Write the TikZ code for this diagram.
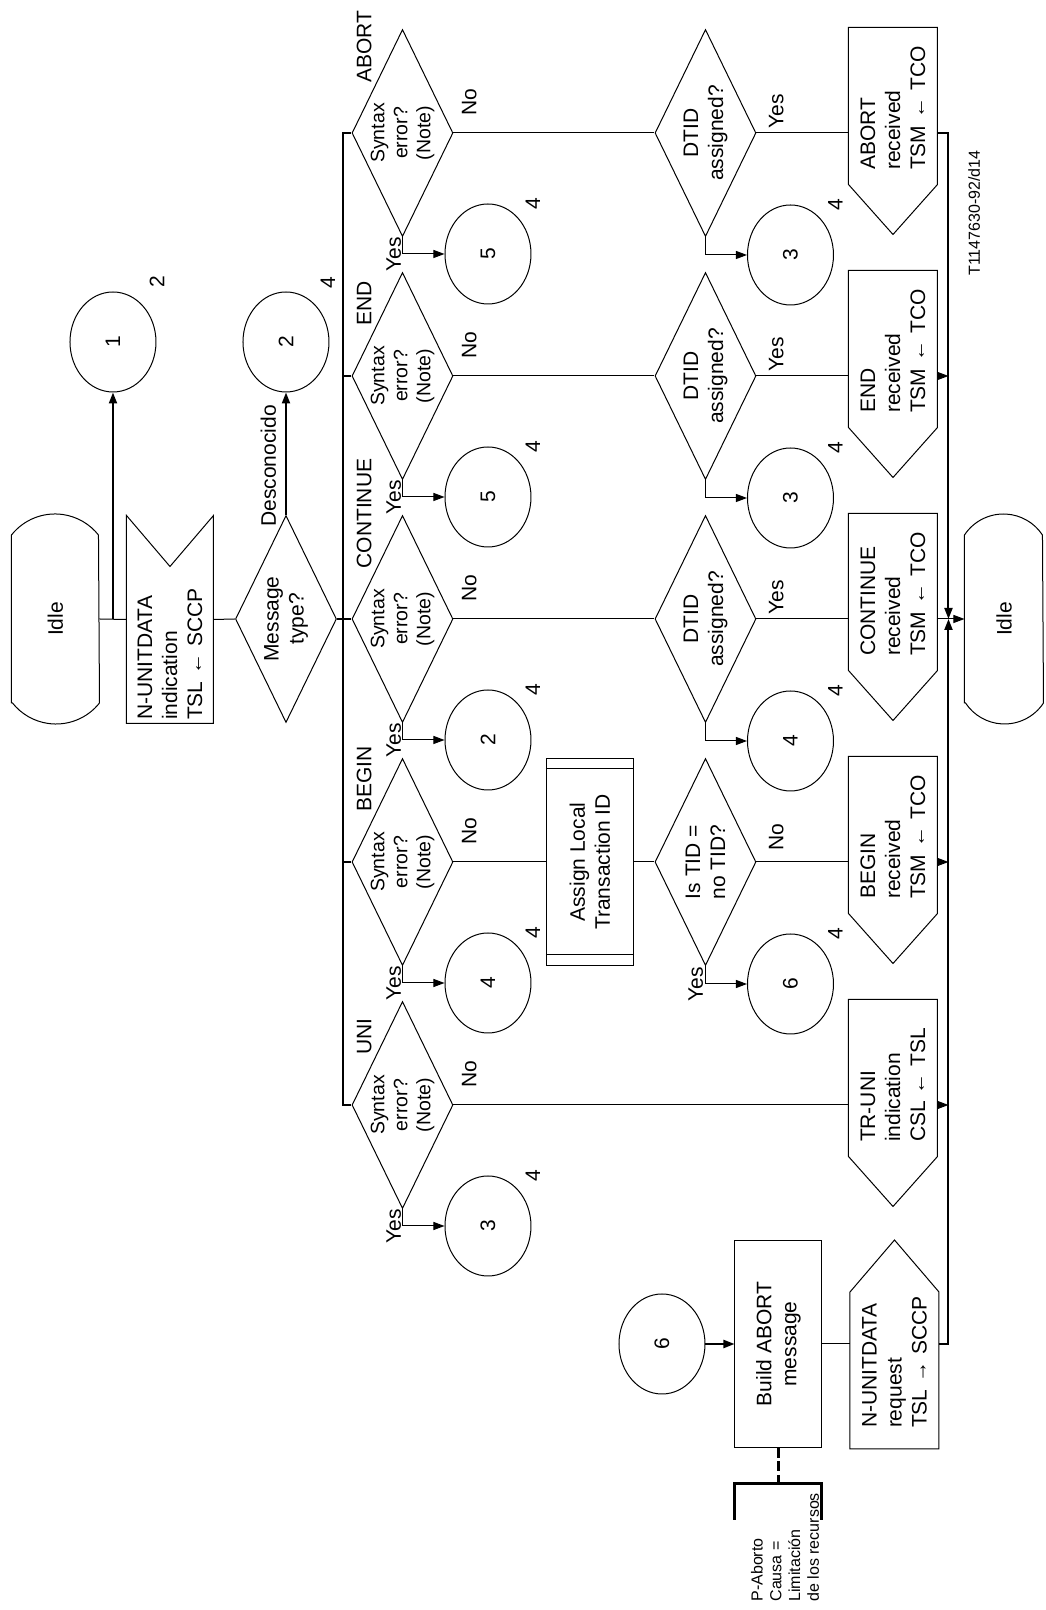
\documentclass[tikz,border=0pt]{standalone}
\usepackage{fontspec}
\setmainfont{Liberation Sans}
\usetikzlibrary{arrows.meta,positioning,calc,shapes.geometric}

\newcommand{\mainsize}{\fontsize{21}{25}\selectfont}
\newcommand{\decsize}{\fontsize{19.5}{23}\selectfont}
\newcommand{\notesize}{\fontsize{16}{18.7}\selectfont}

\begin{document}
\begin{tikzpicture}[
  x=1pt, y=1pt, rotate=90, transform shape,
  line width=1pt,
  every node/.style={font=\mainsize, inner sep=0pt},
  statebox/.style={rectangle, minimum width=167pt, minimum height=87pt},
  inbox/.style={rectangle, minimum width=207pt, minimum height=86pt,
    inner xsep=3pt, text width=201pt, align=left},
  outbox/.style={rectangle, minimum width=156pt, minimum height=88pt,
    inner xsep=14pt, text width=128pt, align=left},
  taskbox/.style={rectangle, draw, minimum width=207pt, minimum height=87pt, align=center},
  decision/.style={diamond, draw, aspect=2, minimum width=207pt,
    minimum height=101pt, align=center},
  syntaxbox/.style={decision, font=\decsize},
  connector/.style={ellipse, draw, minimum width=100pt, minimum height=86pt},
  lbl/.style={font=\mainsize},
  flow/.style={line width=1pt},
  bus/.style={line width=2pt},
  arr/.style={-{Triangle[length=11pt,width=8pt]}},
  commentline/.style={line width=3pt, dash pattern=on 10pt off 3.5pt},
]
\useasboundingbox (0,0) rectangle (1610,1045);

% --- Start: Idle, N-UNITDATA indication, message type ---
\node[statebox] (idle) at (991,989.5) {Idle};
\node[inbox] (nind) at (990.5,875) {N-UNITDATA\\indication\\TSL ← SCCP};
\node[decision] (msgtype) at (991,759) {Message\\type?};
\node[connector] (cone) at (1268,932) {1};
\node[connector] (ctwo) at (1268,759) {2};
\node (conenote) at (1328,888) {2};
\node (ctwonote) at (1327,717) {4};

\draw (idle.north west) -- (idle.north east) arc[start angle=51.6, end angle=-51.6, radius=55.5pt]
  -- (idle.south west) arc[start angle=231.6, end angle=128.4, radius=55.5pt] -- cycle;
\draw (nind.north west) -- (nind.north east) -- ($(nind.east)+(-51,0)$)
  -- (nind.south east) -- (nind.south west) -- cycle;

% --- Syntax check, one column per message type ---
\node[syntaxbox] (synU) at (505,642.5) {Syntax\\error?\\(Note)};
\node[syntaxbox] (synB) at (748,642.5) {Syntax\\error?\\(Note)};
\node[syntaxbox] (synC) at (991,642.5) {Syntax\\error?\\(Note)};
\node[syntaxbox] (synE) at (1234,642.5) {Syntax\\error?\\(Note)};
\node[syntaxbox] (synA) at (1477,642.5) {Syntax\\error?\\(Note)};

\node[lbl, anchor=base west] (tagU) at ($(synU.north)+(50,-20)$) {UNI};
\node[lbl, anchor=base west] (tagB) at ($(synB.north)+(50,-20)$) {BEGIN};
\node[lbl, anchor=base west] (tagC) at ($(synC.north)+(50,-20)$) {CONTINUE};
\node[lbl, anchor=base west] (tagE) at ($(synE.north)+(50,-20)$) {END};
\node[lbl, anchor=base west] (tagA) at ($(synA.north)+(50,-20)$) {ABORT};

\node[connector] (cU) at (384,557) {3};
\node[connector] (cB) at (627,557) {4};
\node[connector] (cC) at (870,557) {2};
\node[connector] (cE) at (1113,557) {5};
\node[connector] (cA) at (1356,557) {5};
\node (cUnote) at ($(cU)+(50,-45)$) {4};
\node (cBnote) at ($(cB)+(50,-45)$) {4};
\node (cCnote) at ($(cC)+(50,-45)$) {4};
\node (cEnote) at ($(cE)+(50,-45)$) {4};
\node (cAnote) at ($(cA)+(50,-45)$) {4};

\node[lbl, anchor=base east] (noU) at ($(synU.south)+(45,-23)$) {No};
\node[lbl, anchor=base east] (noB) at ($(synB.south)+(45,-23)$) {No};
\node[lbl, anchor=base east] (noC) at ($(synC.south)+(45,-23)$) {No};
\node[lbl, anchor=base east] (noE) at ($(synE.south)+(45,-23)$) {No};
\node[lbl, anchor=base east] (noA) at ($(synA.south)+(45,-23)$) {No};

% --- Transaction ID checks ---
\node[taskbox] (asg) at (748,455) {Assign Local\\Transaction ID};
\draw ($(asg.north west)+(11,0)$) -- ($(asg.south west)+(11,0)$);
\draw ($(asg.north east)+(-11,0)$) -- ($(asg.south east)+(-11,0)$);

\node[decision] (tidB) at (748,339.5) {Is TID =\\no TID?};
\node[decision] (dtC) at (991,339.5) {DTID\\assigned?};
\node[decision] (dtE) at (1234,339.5) {DTID\\assigned?};
\node[decision] (dtA) at (1477,339.5) {DTID\\assigned?};

\node[connector] (csB) at (626,254.5) {6};
\node[connector] (cdC) at (869,254.5) {4};
\node[connector] (cdE) at (1112,254.5) {3};
\node[connector] (cdA) at (1355,254.5) {3};
\node (csBnote) at ($(csB)+(50,-45)$) {4};
\node (cdCnote) at ($(cdC)+(50,-45)$) {4};
\node (cdEnote) at ($(cdE)+(50,-45)$) {4};
\node (cdAnote) at ($(cdA)+(50,-45)$) {4};

\node[lbl, anchor=base east] (noB2) at ($(tidB.south)+(39,-27)$) {No};
\node[lbl, anchor=base east] (yesC2) at ($(dtC.south)+(39,-27)$) {Yes};
\node[lbl, anchor=base east] (yesE2) at ($(dtE.south)+(39,-27)$) {Yes};
\node[lbl, anchor=base east] (yesA2) at ($(dtA.south)+(39,-27)$) {Yes};

% --- Outputs ---
\node[outbox] (outU) at (532,152) {TR-UNI\\indication\\CSL ← TSL};
\node[outbox] (outB) at (775,152) {BEGIN\\received\\TSM ← TCO};
\node[outbox] (outC) at (1018,152) {CONTINUE\\received\\TSM ← TCO};
\node[outbox] (outE) at (1261,152) {END\\received\\TSM ← TCO};
\node[outbox] (outA) at (1504,152) {ABORT\\received\\TSM ← TCO};
\draw (outU.north east) -- (outU.north west) -- ($(outU.west)+(-50,0)$) -- (outU.south west) -- (outU.south east) -- cycle;
\draw (outB.north east) -- (outB.north west) -- ($(outB.west)+(-50,0)$) -- (outB.south west) -- (outB.south east) -- cycle;
\draw (outC.north east) -- (outC.north west) -- ($(outC.west)+(-50,0)$) -- (outC.south west) -- (outC.south east) -- cycle;
\draw (outE.north east) -- (outE.north west) -- ($(outE.west)+(-50,0)$) -- (outE.south west) -- (outE.south east) -- cycle;
\draw (outA.north east) -- (outA.north west) -- ($(outA.west)+(-50,0)$) -- (outA.south west) -- (outA.south east) -- cycle;

\node[statebox, minimum height=78pt] (idle2) at (991,41) {Idle};
\draw (idle2.north west) -- (idle2.north east) arc[start angle=56.6, end angle=-56.6, radius=46.7pt]
  -- (idle2.south west) arc[start angle=236.6, end angle=123.4, radius=46.7pt] -- cycle;
\coordinate (jn) at ($(idle2.north)+(0,16)$);

% --- Resource shortage branch ---
\node[connector] (csix) at (266,383) {6};
\node[taskbox] (bld) at (266,266.5) {Build ABORT\\message};
\node[outbox, inner xsep=20pt, text width=115pt] (nreq) at (239.5,150.5) {\mbox{N-UNITDATA}\\request\\TSL~→~SCCP};
\draw (nreq.north west) -- (nreq.north east) -- ($(nreq.east)+(52,0)$)
  -- (nreq.south east) -- (nreq.south west) -- cycle;
\coordinate (brk) at ($(bld.west)+(-36,0)$);
\node[font=\notesize, align=left, anchor=west] (pnote) at (8,260) {P-Aborto\\Causa =\\Limitación\\de los recursos};
\node[font=\notesize, anchor=base] (figid) at (1397,65) {T1147630-92/d14};

% --- Connectors ---
\coordinate (br) at ($(idle.south)!0.5!(nind.north)$);
\draw[flow] (idle.south) -- (nind.north);
\draw[bus, arr] (br) -- (cone.west);
\draw[flow] (nind.south) -- (msgtype.north);
\draw[bus, arr] (msgtype.east) -- node[lbl, pos=0.4, above=9pt] (unknown) {Desconocido} (ctwo.west);

\draw[bus] (msgtype.south) -- (synC.north);
\draw[bus] (synU.north) -- ++(0,8) -- ($(synA.north)+(0,8)$) -- (synA.north);
\draw[bus] (synB.north) -- ++(0,8);
\draw[bus] (synE.north) -- ++(0,8);

% Yes: syntax error
\draw[flow, arr] (synU.west) -| node[lbl, pos=0.5, anchor=base, yshift=1.5pt] (yesU) {Yes} (cU.north);
\draw[flow, arr] (synB.west) -| node[lbl, pos=0.5, anchor=base, yshift=1.5pt] (yesB) {Yes} (cB.north);
\draw[flow, arr] (synC.west) -| node[lbl, pos=0.5, anchor=base, yshift=1.5pt] (yesC) {Yes} (cC.north);
\draw[flow, arr] (synE.west) -| node[lbl, pos=0.5, anchor=base, yshift=1.5pt] (yesE) {Yes} (cE.north);
\draw[flow, arr] (synA.west) -| node[lbl, pos=0.5, anchor=base, yshift=1.5pt] (yesA) {Yes} (cA.north);

% No: syntax correct
\draw[flow] (synU.south) -- (synU.south |- outU.north);
\draw[flow] (synB.south) -- (asg.north);
\draw[flow] (asg.south) -- (tidB.north);
\draw[flow] (synC.south) -- (dtC.north);
\draw[flow] (synE.south) -- (dtE.north);
\draw[flow] (synA.south) -- (dtA.north);

% TID checks
\draw[flow, arr] (tidB.west) -| node[lbl, pos=0.5, anchor=base, yshift=2.5pt] (yesB2) {Yes} (csB.north);
\draw[flow, arr] (dtC.west) -| (cdC.north);
\draw[flow, arr] (dtE.west) -| (cdE.north);
\draw[flow, arr] (dtA.west) -| (cdA.north);
\draw[flow] (tidB.south) -- (tidB.south |- outB.north);
\draw[flow] (dtC.south) -- (dtC.south |- outC.north);
\draw[flow] (dtE.south) -- (dtE.south |- outE.north);
\draw[flow] (dtA.south) -- (dtA.south |- outA.north);

% back to Idle
\draw[flow, arr] (synU.south |- outU.south) -- (synU.south |- jn);
\draw[flow, arr] (synB.south |- outB.south) -- (synB.south |- jn);
\draw[flow, arr] (synC.south |- outC.south) -- (idle2.north);
\draw[flow, arr] (synE.south |- outE.south) -- (synE.south |- jn);
\draw[bus, arr] (synA.south |- outA.south) |- (jn);

% resource shortage
\draw[bus, arr] (csix.south) -- (bld.north);
\draw[flow] (bld.south) -- (bld.south |- nreq.north);
\draw[bus, arr] (bld.south |- nreq.south) |- (jn);
\draw[commentline] (bld.west) -- (brk);
\draw[line width=3pt] ($(brk)+(-36,43.5)$) -- ($(brk)+(0,43.5)$) -- ($(brk)+(0,-43.5)$) -- ($(brk)+(-36,-43.5)$);

\end{tikzpicture}
\end{document}
